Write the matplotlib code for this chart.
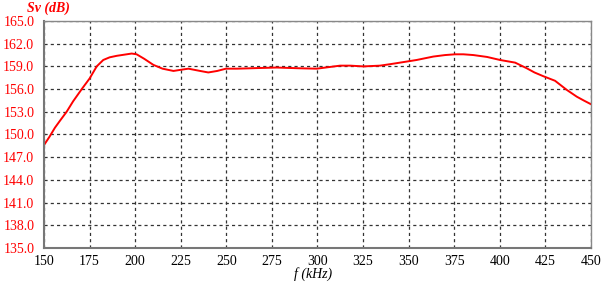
import matplotlib.pyplot as plt

# frequency (kHz) and source level Sv (dB)
freq = [150, 153, 156, 159, 162.4, 166, 170.7, 175, 178.9, 182.5, 186, 189.9, 194, 198.1,
        200.8, 205, 210, 215, 221, 225, 229.2, 235.6, 240.1, 245, 249.8, 256, 263, 270,
        277.6, 284, 290.4, 299.6, 306, 312.4, 318, 325.2, 334.3, 340, 345.3, 354.4,
        363.5, 370, 375.5, 380, 385.5, 393, 400.1, 408.4, 414.8, 419, 423.9, 430.3,
        436.7, 442.2, 446, 450]
sv = [148.6, 149.7, 150.9, 151.9, 153.0, 154.4, 156.0, 157.4, 159.0, 159.85, 160.2, 160.4,
      160.55, 160.7, 160.6, 160.0, 159.2, 158.7, 158.4, 158.55, 158.7, 158.4, 158.2, 158.4,
      158.7, 158.7, 158.75, 158.8, 158.85, 158.8, 158.75, 158.7, 158.9, 159.1, 159.1,
      159.0, 159.1, 159.3, 159.5, 159.85, 160.3, 160.5, 160.6, 160.6, 160.5, 160.25,
      159.85, 159.5, 158.75, 158.2, 157.7, 157.1, 155.9, 155.0, 154.5, 154.0]

xticks = [150, 175, 200, 225, 250, 275, 300, 325, 350, 375, 400, 425, 450]
yticks = [135.0, 138.0, 141.0, 144.0, 147.0, 150.0, 153.0, 156.0, 159.0, 162.0, 165.0]

plt.rcParams['font.family'] = 'Liberation Serif'

fig = plt.figure(figsize=(6.02, 2.82), dpi=100)
ax = fig.add_axes([0.0731, 0.1206, 0.9086, 0.8049])

ax.plot(freq, sv, color='#ff0000', lw=1.4)

ax.set_xlim(150, 450)
ax.set_ylim(135, 165)
ax.set_xticks(xticks)
ax.set_yticks(yticks)
ax.set_yticklabels(['%.1f' % v for v in yticks], color='#ff0000', fontsize=10)
ax.set_xticklabels([str(v) for v in xticks], fontsize=10)
ax.tick_params(axis='y', length=0, pad=7)
ax.tick_params(axis='x', length=0, pad=5)

ax.grid(True, color='#333333', linestyle=(0, (2.5, 2.5)), lw=0.9)

for side in ['left', 'bottom']:
    ax.spines[side].set_color('#777777')
    ax.spines[side].set_linewidth(1.5)
for side in ['top', 'right']:
    ax.spines[side].set_color('#888888')
    ax.spines[side].set_linewidth(1.0)

fig.text(0.080, 0.972, 'Sv (dB)', color='#ff0000', fontsize=10, fontweight='bold',
         fontstyle='italic', ha='center', va='center')
fig.text(0.520, 0.030, 'f (kHz)', fontsize=10, fontstyle='italic', ha='center', va='center')

fig.savefig('out.png', dpi=100)
